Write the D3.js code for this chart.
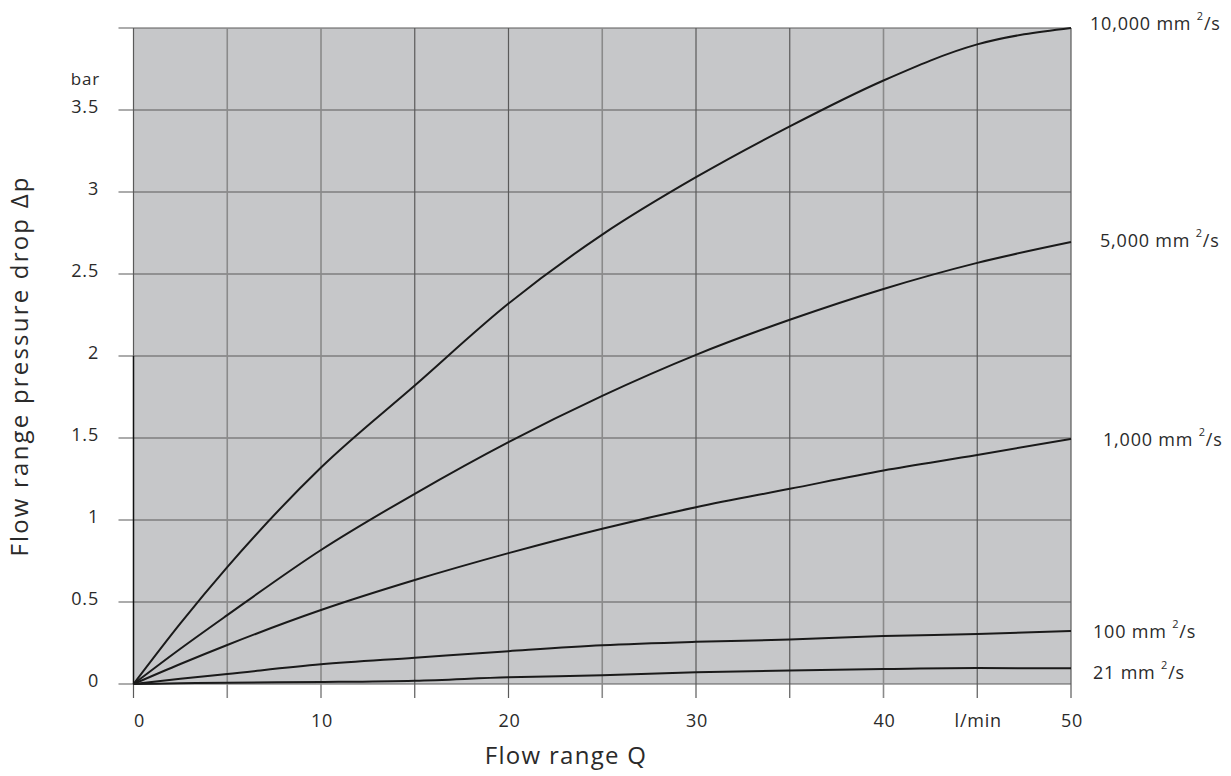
<!DOCTYPE html>
<html>
<head>
<meta charset="utf-8">
<script src="https://cdn.jsdelivr.net/npm/d3@7/dist/d3.min.js"></script>
<style>
  html, body { margin: 0; padding: 0; background: #fff; }
  svg { display: block; font-family: "Open Sans", "Lato", sans-serif; }
</style>
</head>
<body>
<svg id="chart" width="1231" height="776"></svg>
<script>
// Flow rate Q (l/min) sample points
const flow = [0, 2.5, 5, 10, 15, 20, 25, 30, 35, 40, 45, 50];

// Pressure drop Δp (bar) per kinematic viscosity
const dp10000 = [0, 0.37, 0.713, 1.32, 1.82, 2.32, 2.74, 3.09, 3.40, 3.68, 3.90, 4.0];
const dp5000  = [0, 0.215, 0.42, 0.817, 1.16, 1.475, 1.757, 2.007, 2.221, 2.409, 2.568, 2.695];
const dp1000  = [0, 0.122, 0.238, 0.451, 0.634, 0.798, 0.947, 1.078, 1.19, 1.302, 1.396, 1.495];
const dp100   = [0, 0.032, 0.061, 0.12, 0.16, 0.2, 0.236, 0.257, 0.271, 0.292, 0.305, 0.323];
const dp21    = [0, 0.004, 0.008, 0.012, 0.02, 0.041, 0.053, 0.071, 0.083, 0.091, 0.097, 0.096];

const viscosityLabels = ["10,000", "5,000", "1,000", "100", "21"];
const seriesValues = [dp10000, dp5000, dp1000, dp100, dp21];

const xTicks = [0, 5, 10, 15, 20, 25, 30, 35, 40, 45, 50];
const xTickLabels = [["0", 0], ["10", 10], ["20", 20], ["30", 30], ["40", 40], ["l/min", 45], ["50", 50]];
const yTicks = [0, 0.5, 1, 1.5, 2, 2.5, 3, 3.5, 4];
const yTickLabels = ["0", "0.5", "1", "1.5", "2", "2.5", "3", "3.5"];

const svg = d3.select("#chart");
const x = d3.scaleLinear().domain([0, 50]).range([133.5, 1071]);
const y = d3.scaleLinear().domain([0, 4]).range([684, 28]);

const ink = "#2a2a2a";
const lightGrid = new Set([5, 10, 25, 40]);

// plot background
svg.append("rect")
  .attr("x", x(0)).attr("y", y(4))
  .attr("width", x(50) - x(0)).attr("height", y(0) - y(4))
  .attr("fill", "#c6c7c9");

// horizontal grid lines, extended left as ticks
svg.append("g").selectAll("line").data(yTicks).join("line")
  .attr("x1", x(0) - 15).attr("x2", x(50))
  .attr("y1", d => y(d)).attr("y2", d => y(d))
  .attr("stroke", "#5a5a5a").attr("stroke-width", 1.2);

// vertical grid lines, extended down as ticks
svg.append("g").selectAll("line").data(xTicks).join("line")
  .attr("x1", d => x(d)).attr("x2", d => x(d))
  .attr("y1", y(4)).attr("y2", y(0) + 14)
  .attr("stroke", d => lightGrid.has(d) ? "#8a8a8a" : "#5a5a5a")
  .attr("stroke-width", d => lightGrid.has(d) ? 1.6 : 1.2);

// darker lower part of the pressure axis
svg.append("line")
  .attr("x1", x(0)).attr("x2", x(0))
  .attr("y1", y(2)).attr("y2", y(0))
  .attr("stroke", "#111").attr("stroke-width", 1.4);

// curves
const line = d3.line()
  .x((d, i) => x(flow[i]))
  .y(d => y(d))
  .curve(d3.curveMonotoneX);

svg.append("g").selectAll("path").data(seriesValues).join("path")
  .attr("d", d => line(d))
  .attr("fill", "none")
  .attr("stroke", "#1a1a1a")
  .attr("stroke-width", 2);

// curve labels at the right end
const labelDx = [19, 29, 32, 22, 22];
const labelDy = [-3, 0, 2, 2, 6];
const lbl = svg.append("g").selectAll("text").data(seriesValues).join("text")
  .attr("x", (d, i) => x(50) + labelDx[i])
  .attr("y", (d, i) => y(d[d.length - 1]) + labelDy[i])
  .attr("dominant-baseline", "middle")
  .attr("font-size", 18)
  .attr("letter-spacing", 0.8)
  .attr("fill", ink);
lbl.append("tspan").text((d, i) => viscosityLabels[i] + " mm ");
lbl.append("tspan").attr("font-size", 11).attr("dy", -8).text("2");
lbl.append("tspan").attr("dy", 8).text("/s");

// y tick labels
svg.append("g").selectAll("text").data(yTickLabels).join("text")
  .attr("x", 99)
  .attr("y", (d, i) => y(yTicks[i]) - 2)
  .attr("text-anchor", "end")
  .attr("dominant-baseline", "middle")
  .attr("font-size", 18)
  .attr("letter-spacing", 0.8)
  .attr("fill", ink)
  .text(d => d);

svg.append("text")
  .attr("x", 100).attr("y", 80)
  .attr("text-anchor", "end").attr("dominant-baseline", "middle")
  .attr("font-size", 17).attr("letter-spacing", 0.8).attr("fill", ink)
  .text("bar");

// x tick labels
svg.append("g").selectAll("text").data(xTickLabels).join("text")
  .attr("x", d => x(d[1]) + (d[1] === 0 ? 6 : 1))
  .attr("y", 722)
  .attr("text-anchor", "middle")
  .attr("dominant-baseline", "middle")
  .attr("font-size", 18)
  .attr("letter-spacing", 0.8)
  .attr("fill", ink)
  .text(d => d[0]);

// axis titles
svg.append("text")
  .attr("x", 566).attr("y", 758)
  .attr("text-anchor", "middle").attr("dominant-baseline", "middle")
  .attr("font-size", 24).attr("letter-spacing", 1.3).attr("fill", ink)
  .text("Flow range Q");

svg.append("text")
  .attr("transform", "translate(22,366) rotate(-90)")
  .attr("text-anchor", "middle").attr("dominant-baseline", "middle")
  .attr("font-size", 24).attr("letter-spacing", 2.2).attr("fill", ink)
  .text("Flow range pressure drop Δp");
</script>
</body>
</html>
